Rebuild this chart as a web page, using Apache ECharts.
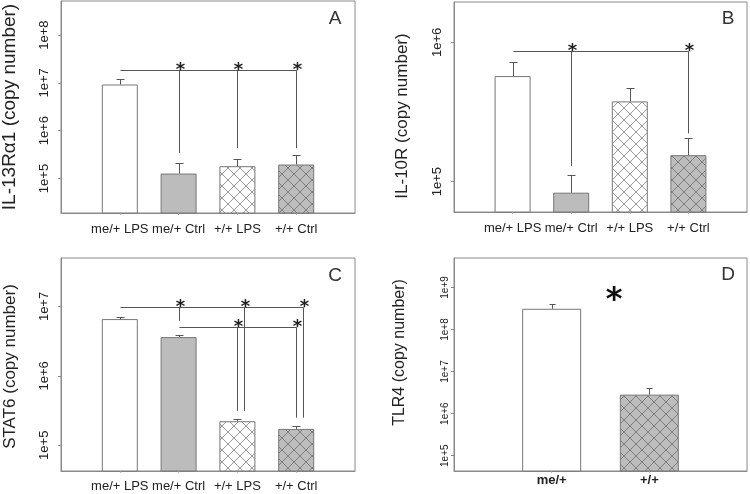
<!DOCTYPE html>
<html><head><meta charset="utf-8">
<script src="https://cdn.jsdelivr.net/npm/echarts@6/dist/echarts.min.js"></script>
<style>html,body{margin:0;padding:0;background:#fff}#c{width:750px;height:494px}</style>
</head><body><div id="c"></div>
<script>
// ---------------- data ----------------
const categories = ['me/+ LPS', 'me/+ Ctrl', '+/+ LPS', '+/+ Ctrl'];
const categoriesD = ['me/+', '+/+'];

const il13Mean  = [9.25e6, 1.27e5, 1.81e5, 1.96e5];
const il13Upper = [1.20e7, 2.12e5, 2.57e5, 3.08e5];
const il10Mean  = [5.73e5, 8.34e4, 3.77e5, 1.55e5];
const il10Upper = [7.18e5, 1.11e5, 4.68e5, 2.06e5];
const stat6Mean  = [6.58e6, 3.62e6, 2.22e5, 1.72e5];
const stat6Upper = [7.03e6, 3.94e6, 2.42e5, 1.88e5];
const tlr4Mean  = [3.11e8, 2.83e6];
const tlr4Upper = [3.94e8, 4.07e6];

const ticksA = ['1e+5', '1e+6', '1e+7', '1e+8'];
const ticksB = ['1e+5', '1e+6'];
const ticksC = ['1e+5', '1e+6', '1e+7'];
const ticksD = ['1e+5', '1e+6', '1e+7', '1e+8', '1e+9'];

const rangeA = [1.9e4, 5.16e8];
const rangeB = [6.06e4, 1.95e6];
const rangeC = [4.26e4, 4.99e7];
const rangeD = [4.33e4, 5.01e9];

// significance brackets: level of horizontal line, its ends, and vertical drops [category, lower end]
const sigA  = { level: 1.85e7, from: 'me/+ LPS', to: '+/+ Ctrl', drops: [['me/+ Ctrl', 3.4e5], ['+/+ LPS', 4.3e5], ['+/+ Ctrl', 4.3e5]] };
const sigB  = { level: 8.66e5, from: 'me/+ LPS', to: '+/+ Ctrl', drops: [['me/+ Ctrl', 1.30e5], ['+/+ Ctrl', 2.22e5]] };
const sigC1 = { level: 9.8e6,  from: 'me/+ LPS', to: '+/+ Ctrl', drops: [['me/+ Ctrl', 6.2e6], ['+/+ LPS', 3.13e5], ['+/+ Ctrl', 2.5e5]] };
const sigC2 = { level: 5.1e6,  from: 'me/+ Ctrl', to: '+/+ Ctrl', drops: [['+/+ LPS', 3.13e5], ['+/+ Ctrl', 2.5e5]] };

// ---------------- styles ----------------
const FONT = 'Liberation Sans';
const AXIS = '#8a8a8a';
const TXT = '#222';
const LINE = '#555';
const shiftC1 = { end: 7, drops: [0, 7, 7] };
const noShift = { end: 0, drops: [0, 0, 0] };

function hatch(bg, lc) {
  const c = document.createElement('canvas');
  c.width = 12; c.height = 12;
  const g = c.getContext('2d');
  g.fillStyle = bg; g.fillRect(0, 0, 12, 12);
  g.strokeStyle = lc; g.lineWidth = 1;
  g.beginPath();
  for (const o of [-12, 0, 12]) {
    g.moveTo(o - 1, -1); g.lineTo(o + 13, 13);
    g.moveTo(o + 13, -1); g.lineTo(o - 1, 13);
  }
  g.stroke();
  return c;
}
const styleWhite = { color: '#ffffff', borderColor: '#777', borderWidth: 1 };
const styleGray = { color: '#bcbcbc', borderColor: '#777', borderWidth: 1 };
const styleHatchW = { color: { image: hatch('#ffffff', '#9a9a9a'), repeat: 'repeat' }, borderColor: '#777', borderWidth: 1 };
const styleHatchG = { color: { image: hatch('#bdbdbd', '#7e7e7e'), repeat: 'repeat' }, borderColor: '#777', borderWidth: 1 };
const styles4 = [styleWhite, styleGray, styleHatchW, styleHatchG];
const stylesD = [styleWhite, styleHatchG];

const grids = [
  { left: 61, top: 1, width: 294, height: 212 },
  { left: 454, top: 2, width: 293, height: 210 },
  { left: 61, top: 258, width: 294, height: 213 },
  { left: 454, top: 258, width: 293, height: 213 }
].map(g => Object.assign({ show: true, borderColor: AXIS, borderWidth: 1, backgroundColor: 'transparent', containLabel: false, outerBoundsMode: 'none' }, g));

function pad(cats) { return [''].concat(cats, ['']); }

function xAxis(i, cats, size, margin, bold) {
  return {
    type: 'category', gridIndex: i, data: pad(cats), boundaryGap: false,
    axisLine: { show: true, lineStyle: { color: AXIS } },
    axisTick: { show: true, length: 2, interval: (idx, val) => val !== '', lineStyle: { color: '#bbb' } },
    axisLabel: { interval: 0, fontFamily: FONT, fontSize: size, color: TXT, margin: margin, fontWeight: bold ? 'bold' : 'normal' },
    splitLine: { show: false }
  };
}

function yAxis(i, range, ticks, name, nameSize, nameGap, namePad, labelSize, labelMargin) {
  const vals = ticks.map(Number);
  return {
    type: 'log', logBase: 10, gridIndex: i, min: range[0], max: range[1],
    name: name, nameLocation: 'middle', nameGap: nameGap, nameRotate: 90,
    nameTextStyle: { fontFamily: FONT, fontSize: nameSize, color: TXT, padding: namePad },
    axisLine: { show: true, lineStyle: { color: AXIS } },
    axisTick: { show: true, length: 3, customValues: vals, lineStyle: { color: AXIS } },
    axisLabel: {
      rotate: 90, customValues: vals, fontFamily: FONT, fontSize: labelSize, color: TXT, margin: labelMargin,
      formatter: v => {
        const k = vals.findIndex(t => Math.abs(Math.log10(t) - Math.log10(v)) < 1e-6);
        return k >= 0 ? ticks[k] : '';
      }
    },
    splitLine: { show: false }, minorTick: { show: false }
  };
}

function barSeries(i, cats, mean, sty, width) {
  return {
    type: 'bar', xAxisIndex: i, yAxisIndex: i, barWidth: width, clip: true,
    data: cats.map((c, k) => ({ value: [c, mean[k]], itemStyle: sty[k] })),
    emphasis: { disabled: true }
  };
}

function errSeries(i, cats, mean, upper, cap) {
  return {
    type: 'custom', xAxisIndex: i, yAxisIndex: i, z: 3, silent: true,
    encode: { x: 0, y: [1, 2] },
    data: cats.map((c, k) => [c, mean[k], upper[k]]),
    renderItem: (params, api) => {
      const p0 = api.coord([api.value(0), api.value(1)]);
      const p1 = api.coord([api.value(0), api.value(2)]);
      const x = Math.round(p0[0]) + 0.5;
      const yt = Math.round(p1[1]) + 0.5;
      return {
        type: 'group', children: [
          { type: 'line', shape: { x1: x, y1: p0[1], x2: x, y2: yt }, style: { stroke: LINE, lineWidth: 1 } },
          { type: 'line', shape: { x1: x - cap, y1: yt, x2: x + cap, y2: yt }, style: { stroke: LINE, lineWidth: 1 } }
        ]
      };
    }
  };
}

function sigSeries(i, spec, shift) {
  return {
    type: 'custom', xAxisIndex: i, yAxisIndex: i, z: 4, silent: true,
    encode: { x: 0, y: 1 },
    data: [[spec.from, spec.level]],
    renderItem: (params, api) => {
      const ch = [];
      const a = api.coord([spec.from, spec.level]);
      const b = api.coord([spec.to, spec.level]);
      const y = Math.round(a[1]) + 0.5;
      ch.push({ type: 'line', shape: { x1: Math.round(a[0]) + 0.5, y1: y, x2: Math.round(b[0]) + shift.end + 0.5, y2: y }, style: { stroke: LINE, lineWidth: 1 } });
      spec.drops.forEach((d, k) => {
        const t = api.coord([d[0], spec.level]);
        const bt = api.coord([d[0], d[1]]);
        const x = Math.round(t[0]) + shift.drops[k] + 0.5;
        ch.push({ type: 'line', shape: { x1: x, y1: y, x2: x, y2: bt[1] }, style: { stroke: LINE, lineWidth: 1 } });
        ch.push({ type: 'text', x: x + 1, y: y, style: { text: '*', font: 'bold 18px "DejaVu Sans"', fill: '#222', align: 'center', verticalAlign: 'middle' } });
      });
      return { type: 'group', children: ch };
    }
  };
}

const chart = echarts.init(document.getElementById('c'));
chart.setOption({
  animation: false,
  backgroundColor: '#fff',
  grid: grids,
  xAxis: [
    xAxis(0, categories, 13, 10, false),
    xAxis(1, categories, 13, 10, false),
    xAxis(2, categories, 13, 9, false),
    xAxis(3, categoriesD, 13, 3, true)
  ],
  yAxis: [
    yAxis(0, rangeA, ticksA, 'IL-13R\u03b11 (copy number)', 19, 42, [0, 0, 0, 0], 13, 10),
    yAxis(1, rangeB, ticksB, 'IL-10R (copy number)', 17, 43, [0, 18, 0, 0], 13, 10),
    yAxis(2, rangeC, ticksC, 'STAT6 (copy number)', 17, 42, [0, 4, 0, 0], 13, 10),
    yAxis(3, rangeD, ticksD, 'TLR4 (copy number)', 16, 46, [0, 0, 0, 24], 10, 4)
  ],
  series: [
    barSeries(0, categories, il13Mean, styles4, 36),
    errSeries(0, categories, il13Mean, il13Upper, 4),
    sigSeries(0, sigA, noShift),
    barSeries(1, categories, il10Mean, styles4, 36),
    errSeries(1, categories, il10Mean, il10Upper, 4),
    sigSeries(1, sigB, noShift),
    barSeries(2, categories, stat6Mean, styles4, 36),
    errSeries(2, categories, stat6Mean, stat6Upper, 4),
    sigSeries(2, sigC1, shiftC1),
    sigSeries(2, sigC2, noShift),
    barSeries(3, categoriesD, tlr4Mean, stylesD, 59),
    errSeries(3, categoriesD, tlr4Mean, tlr4Upper, 3)
  ],
  graphic: [
    { type: 'text', x: 335, y: 19, style: { text: 'A', font: '19px "Liberation Sans"', fill: '#333', align: 'center', verticalAlign: 'middle' } },
    { type: 'text', x: 728, y: 19, style: { text: 'B', font: '19px "Liberation Sans"', fill: '#333', align: 'center', verticalAlign: 'middle' } },
    { type: 'text', x: 335, y: 276, style: { text: 'C', font: '19px "Liberation Sans"', fill: '#333', align: 'center', verticalAlign: 'middle' } },
    { type: 'text', x: 728, y: 275, style: { text: 'D', font: '19px "Liberation Sans"', fill: '#333', align: 'center', verticalAlign: 'middle' } },
    { type: 'text', x: 614, y: 301, style: { text: '*', font: 'bold 32px "DejaVu Sans"', fill: '#111', align: 'center', verticalAlign: 'middle' } }
  ]
});
</script>
</body></html>
